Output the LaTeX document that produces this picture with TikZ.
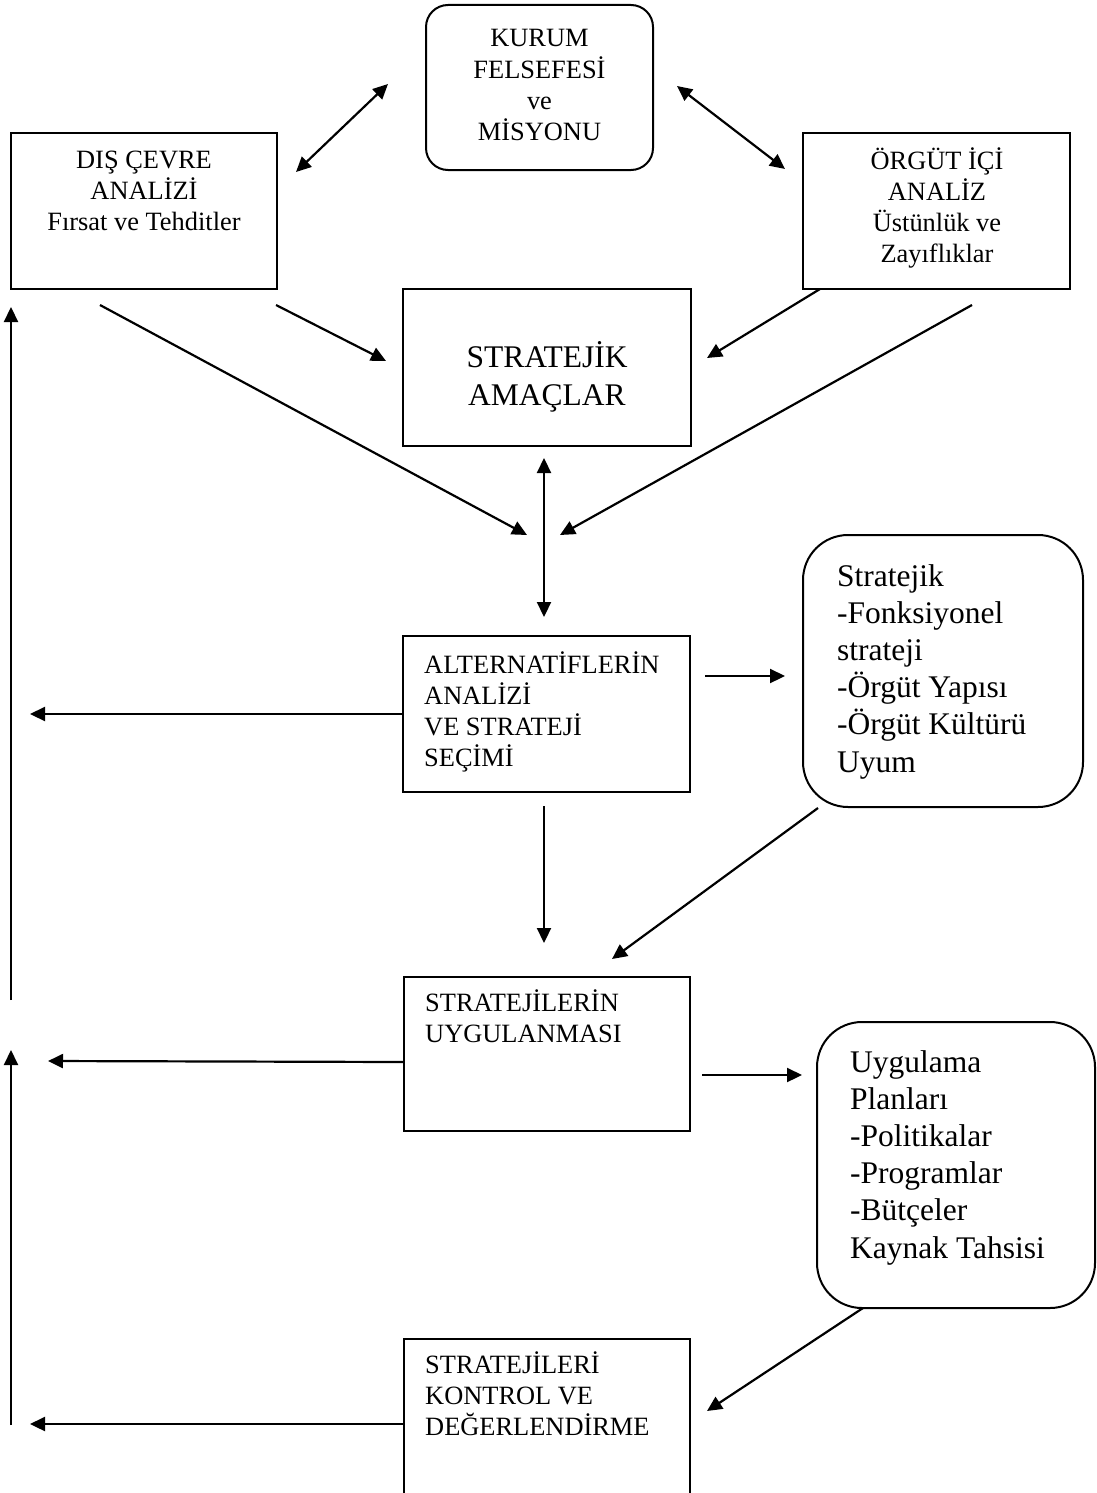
\documentclass[tikz,border=0pt]{standalone}
\usepackage{fontspec}
\setmainfont{Liberation Serif}
\usetikzlibrary{arrows.meta}
\begin{document}
\begin{tikzpicture}[x=1pt,y=-1pt,
  box/.style={draw, line width=2pt, inner sep=0pt},
  rbox/.style={box, rounded corners=#1},
  txt/.style={inner sep=0pt, font=\fontsize{26.4}{31}\selectfont},
  bigtxt/.style={inner sep=0pt, font=\fontsize{31.5}{37.2}\selectfont},
  conn/.style={line width=2.2pt, -{Triangle[length=15pt,width=14pt]}},
  dconn/.style={line width=2.2pt, {Triangle[length=15pt,width=14pt]}-{Triangle[length=15pt,width=14pt]}},
  plainline/.style={line width=2.2pt}]
\useasboundingbox (0,0) rectangle (1096,1493);

% boxes
\node[rbox=22pt, minimum width=227pt, minimum height=165pt] (kurum) at (539.5,87.5) {};
\node[box, minimum width=266pt, minimum height=156pt] (dis) at (144,211) {};
\node[box, minimum width=267pt, minimum height=156pt] (orgut) at (936.5,211) {};
\node[box, minimum width=288pt, minimum height=157pt] (amac) at (547,367.5) {};
\node[box, minimum width=287pt, minimum height=156pt] (alt) at (546.5,714) {};
\node[rbox=45pt, minimum width=280pt, minimum height=272pt] (strA) at (943,671) {};
\node[box, minimum width=286pt, minimum height=154pt] (uyg) at (547,1054) {};
\node[rbox=45pt, minimum width=278pt, minimum height=286pt] (plan) at (956,1165) {};
\node[inner sep=0pt, minimum width=286pt, minimum height=156pt] (ctrl) at (547,1417) {};
\draw[line width=2pt] (ctrl.south west) |- (ctrl.north east) -- (ctrl.south east);

% texts (anchored at the baseline of the last line)
\node[txt, align=center, anchor=base] (kurumT) at (539.5,140) {KURUM\\FELSEFESİ\\ve\\MİSYONU};
\node[txt, align=center, anchor=base] (disT) at (144,230) {DIŞ ÇEVRE\\ANALİZİ\\Fırsat ve Tehditler};
\node[txt, align=center, anchor=base] (orgutT) at (937,262) {ÖRGÜT İÇİ\\ANALİZ\\Üstünlük ve\\Zayıflıklar};
\node[bigtxt, align=center, anchor=base] (amacT) at (547,405) {STRATEJİK\\AMAÇLAR};
\node[txt, align=left, anchor=base west] (altT) at (424,766) {ALTERNATİFLERİN\\ANALİZİ\\VE STRATEJİ\\SEÇİMİ};
\node[bigtxt, align=left, anchor=base west] (strAT) at (837,772) {Stratejik\\-Fonksiyonel\\strateji\\-Örgüt Yapısı\\-Örgüt Kültürü\\Uyum};
\node[txt, align=left, anchor=base west] (uygT) at (425,1042) {STRATEJİLERİN\\UYGULANMASI};
\node[bigtxt, align=left, anchor=base west] (planT) at (850,1258) {Uygulama\\Planları\\-Politikalar\\-Programlar\\-Bütçeler\\Kaynak Tahsisi};
\node[txt, align=left, anchor=base west] (ctrlT) at (425,1435) {STRATEJİLERİ\\KONTROL VE\\DEĞERLENDİRME};

% free connector ends
\coordinate (c1a) at (296,172);  \coordinate (c1b) at (388,84);
\coordinate (c2a) at (677,86);   \coordinate (c2b) at (785,169);
\coordinate (c3a) at (276,305);  \coordinate (c3b) at (386,361);
\coordinate (c4a) at (100,305);  \coordinate (c4b) at (527,535);
\coordinate (c5a) at (820,289);  \coordinate (c5b) at (707,358);
\coordinate (c6a) at (972,305);  \coordinate (c6b) at (560,535);
\coordinate (c7a) at (544,458);  \coordinate (c7b) at (544,617);
\coordinate (c8a) at (705,676);  \coordinate (c8b) at (785,676);
\coordinate (c9b) at (30,714);
\coordinate (c10a) at (544,806); \coordinate (c10b) at (544,943);
\coordinate (c11a) at (818,808); \coordinate (c11b) at (612,959);
\coordinate (c12b) at (48,1061);
\coordinate (c13a) at (702,1075); \coordinate (c13b) at (802,1075);
\coordinate (c14a) at (863,1308); \coordinate (c14b) at (707,1411);
\coordinate (c15b) at (30,1424);
\coordinate (c16a) at (11,1000); \coordinate (c16b) at (11,307);
\coordinate (c17a) at (11,1425); \coordinate (c17b) at (11,1050);

% connectors
\draw[dconn] (c1a) -- (c1b);
\draw[dconn] (c2a) -- (c2b);
\draw[conn] (c3a) -- (c3b);
\draw[conn] (c4a) -- (c4b);
\draw[conn] (c5a) -- (c5b);
\draw[conn] (c6a) -- (c6b);
\draw[dconn] (c7a) -- (c7b);
\draw[conn] (c8a) -- (c8b);
\draw[conn] (alt.west) -- (c9b);
\draw[conn] (c10a) -- (c10b);
\draw[conn] (c11a) -- (c11b);
\draw[conn] (uyg.west |- 0,1062) -- (c12b);
\draw[conn] (c13a) -- (c13b);
\draw[conn] (c14a) -- (c14b);
\draw[conn] (ctrl.west |- 0,1424) -- (c15b);
\draw[conn] (c16a) -- (c16b);
\draw[conn] (c17a) -- (c17b);
\end{tikzpicture}
\end{document}
